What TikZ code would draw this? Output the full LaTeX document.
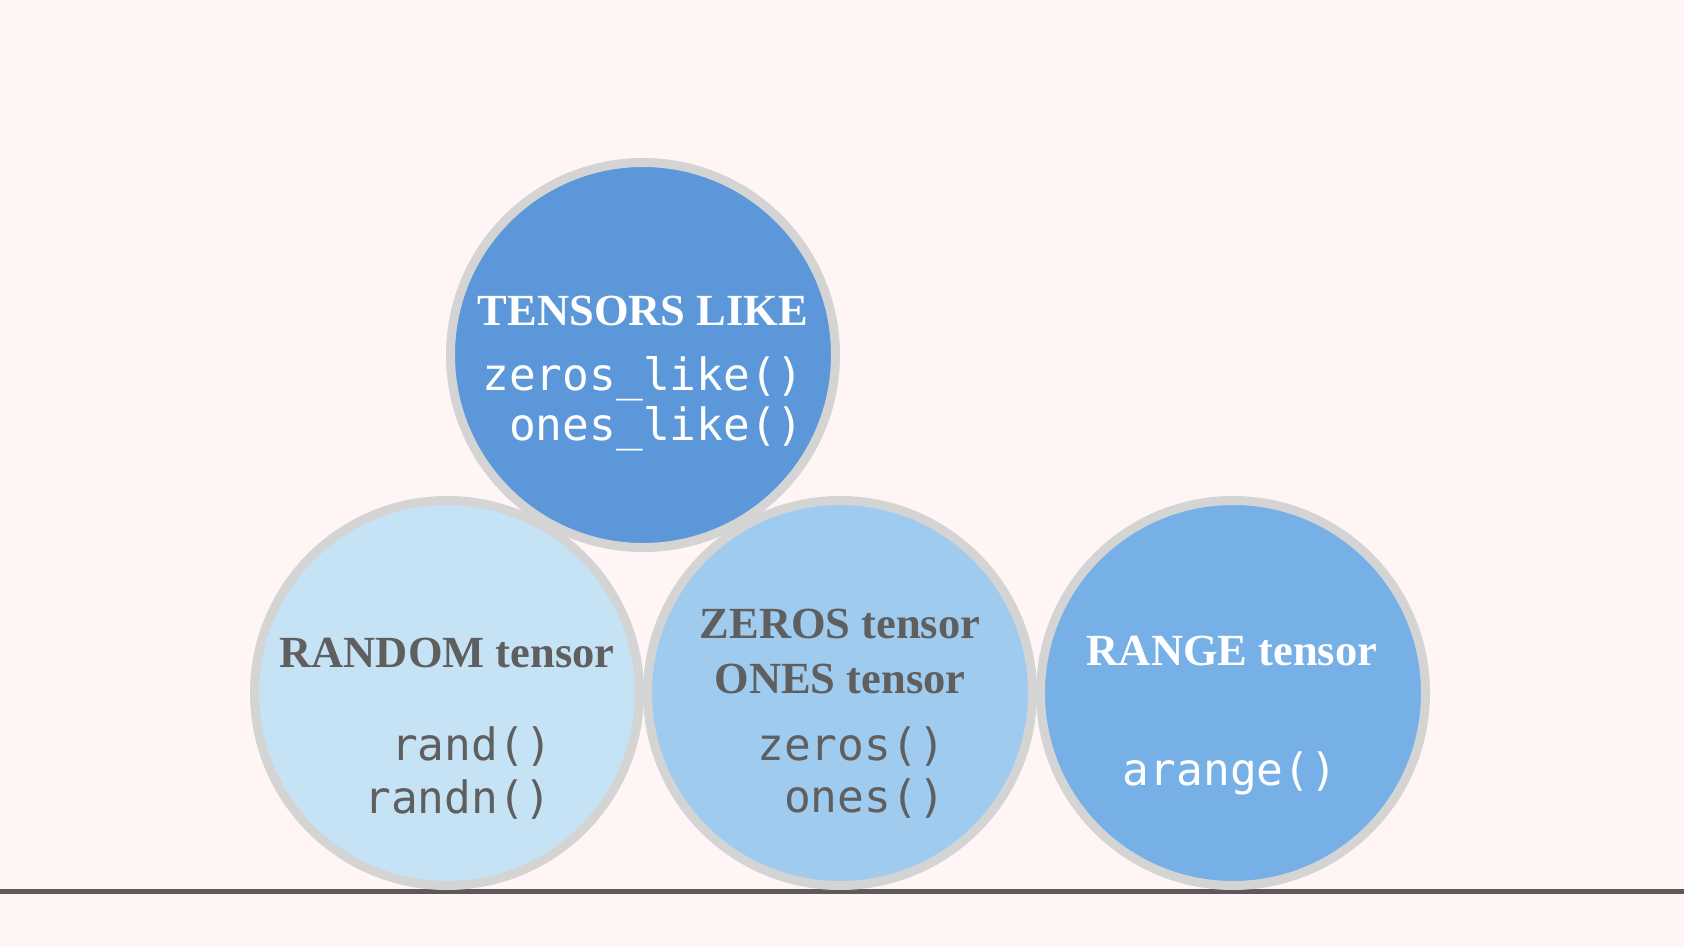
\documentclass[tikz,border=0pt]{standalone}
\usepackage{fontspec}
\setmainfont{Liberation Serif}
\newfontfamily\monof{DejaVu Sans Mono}
\definecolor{bgc}{HTML}{FFF5F5}
\definecolor{ringc}{HTML}{D4D4D4}
\definecolor{topc}{HTML}{5B97D9}
\definecolor{randc}{HTML}{C6E2F5}
\definecolor{zeroc}{HTML}{9FCBEF}
\definecolor{rangec}{HTML}{76B0E6}
\definecolor{darktxt}{HTML}{5F5F5F}
\definecolor{basec}{HTML}{5E5A5A}
\begin{document}
\begin{tikzpicture}[x=1pt,y=-1pt,
  bubble/.style={circle,draw=ringc,line width=9pt,minimum size=385pt,inner sep=0pt},
  titletxt/.style={anchor=base,inner sep=0pt,font=\fontsize{44.5}{50}\selectfont\bfseries},
  codetxt/.style={anchor=base east,inner sep=0pt,font=\fontsize{44.5}{50}\selectfont\monof}]
\fill[bgc] (0,0) rectangle (1684,947);
\useasboundingbox (0,0) rectangle (1684,947);
\draw[basec,line width=5pt] (0,891) coordinate (l0) -- (1684,891) coordinate (l1);
\node[bubble,fill=randc] (rnd) at (447,693) {};
\node[bubble,fill=zeroc] (zer) at (840,693) {};
\node[bubble,fill=rangec] (rng) at (1233,693) {};
\node[bubble,fill=topc] (top) at (643,355) {};
% top
\node[titletxt,text=white] (t1) at (643,325) {TENSORS LIKE};
\node[codetxt,text=white] (t2) at (804,390) {zeros\_like()};
\node[codetxt,text=white] (t3) at (804,440) {ones\_like()};
% random
\node[titletxt,text=darktxt] (r1) at (447,667) {RANDOM tensor};
\node[codetxt,text=darktxt] (r2) at (552,760) {rand()};
\node[codetxt,text=darktxt] (r3) at (552,813) {randn()};
% zeros
\node[titletxt,text=darktxt] (z1) at (840,638) {ZEROS tensor};
\node[titletxt,text=darktxt] (z2) at (840,693) {ONES tensor};
\node[codetxt,text=darktxt] (z3) at (945,760) {zeros()};
\node[codetxt,text=darktxt] (z4) at (945,812) {ones()};
% range
\node[titletxt,text=white] (g1) at (1232,665) {RANGE tensor};
\node[anchor=base,inner sep=0pt,font=\fontsize{44.5}{50}\selectfont\monof,text=white] (g2) at (1230,785) {arange()};
\end{tikzpicture}
\end{document}
